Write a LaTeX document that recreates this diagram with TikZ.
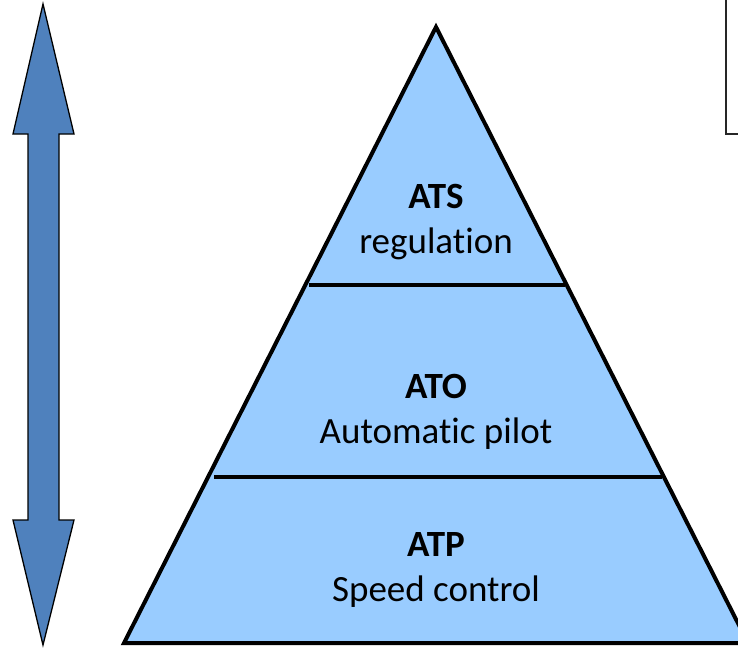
\documentclass[tikz,border=0pt]{standalone}
\usepackage{fontspec}
\setmainfont{Carlito}[Ligatures=NoCommon]
\usetikzlibrary{positioning}

\definecolor{layerblue}{HTML}{99CCFF}
\definecolor{arrowblue}{HTML}{4F81BD}

\begin{document}
\begin{tikzpicture}[
    x=1pt, y=-1pt,
    layer/.style={draw=black, line width=4pt, fill=layerblue, line join=miter},
    divider/.style={draw=black, line width=4pt},
    label/.style={align=center, font=\fontsize{37}{45}\selectfont, inner sep=0pt},
]

\clip (0,0) rectangle (738,648);

% Pyramid corners
\coordinate (apex) at (436,27);
\coordinate (baseL) at (124,643);
\coordinate (baseR) at (748,643);

% Pyramid body
\draw[layer] (apex) -- (baseL) -- (baseR) -- cycle;

% Layer dividers
\draw[divider] (309,285) -- (565,285);
\draw[divider] (214,477) -- (662,477);

% Layer texts
\node[label] (ats) at (436,222) {\textbf{ATS}\\regulation};
\node[label] (ato) at (436,412) {\textbf{ATO}\\Automatic pilot};
\node[label] (atp) at (436,570) {\textbf{ATP}\\Speed control};

% Double arrow at left
\draw[fill=arrowblue, draw=black, line width=1.3pt, line join=miter]
    (43,4) -- (74,134) -- (59,134) -- (59,520) -- (74,520) -- (43,645)
    -- (13,520) -- (28,520) -- (28,134) -- (13,134) -- cycle;

% Box at top right (cut off)
\draw[line width=2pt, draw=black!85] (726,-5) -- (726,134) -- (750,134);

\end{tikzpicture}
\end{document}
